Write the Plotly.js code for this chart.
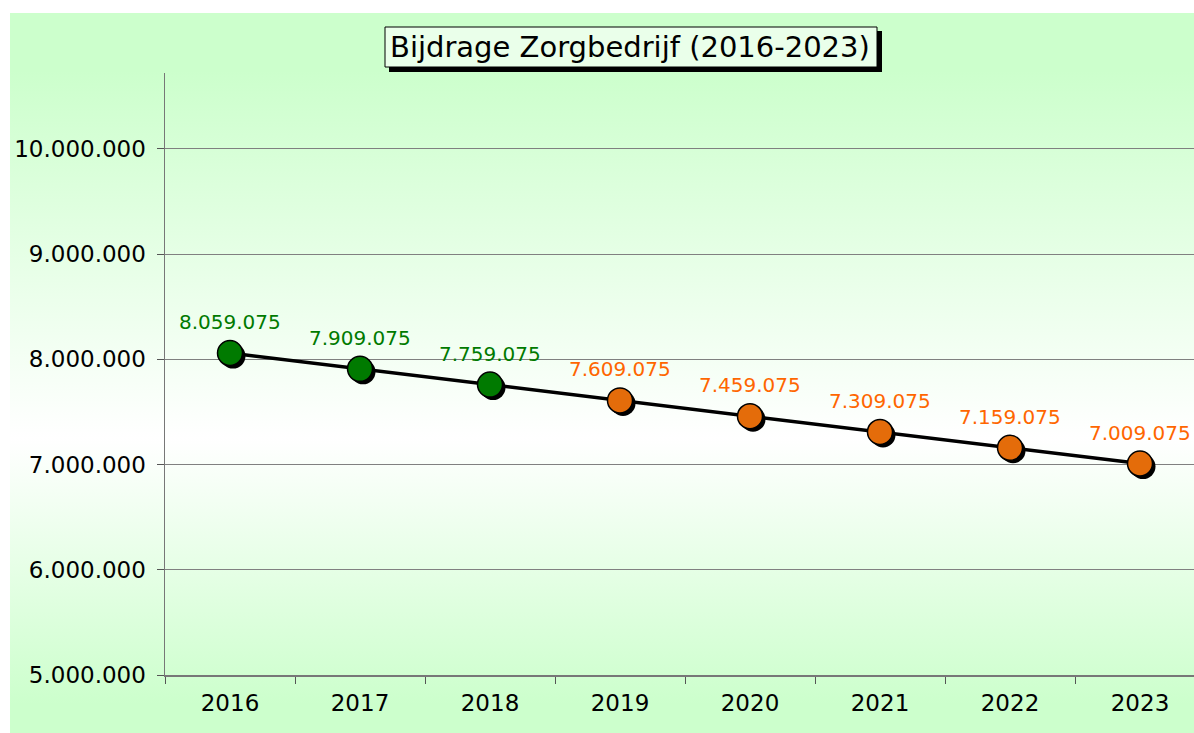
<!DOCTYPE html>
<html>
<head>
<meta charset="utf-8">
<script src="https://cdn.plot.ly/plotly-3.0.1.min.js"></script>
<style>
  html, body { margin: 0; padding: 0; background: #ffffff; overflow: hidden; width: 1194px; height: 733px; }
  #bg { position: absolute; left: 10px; top: 13px; width: 1184px; height: 720px;
        background: linear-gradient(to bottom, #ccffcc 0%, #ccffcc 8%, #ffffff 59%, #ccffcc 96%, #ccffcc 100%); }
  #chart { position: absolute; left: 0; top: 0; width: 1210px; height: 733px; }
</style>
</head>
<body>
<div id="bg"></div>
<div id="chart"></div>
<script>
// ---- data ----
const years = ['2016', '2017', '2018', '2019', '2020', '2021', '2022', '2023'];
const bijdrage = [8059075, 7909075, 7759075, 7609075, 7459075, 7309075, 7159075, 7009075];
const soort = ['realisatie', 'realisatie', 'realisatie', 'raming', 'raming', 'raming', 'raming', 'raming'];
const yTickValues = [5000000, 6000000, 7000000, 8000000, 9000000, 10000000];
const titleText = 'Bijdrage Zorgbedrijf (2016-2023)';

// ---- styling ----
const markerColor = { realisatie: '#007a00', raming: '#e46c0a' };
const labelColor = { realisatie: '#007a00', raming: '#ff6600' };
const FONT = 'DejaVu Sans, Verdana, sans-serif';

function fmt(v) {
  return String(v).replace(/\B(?=(\d{3})+(?!\d))/g, '.');
}

const marginL = 165, marginT = 73, marginB = 58, W = 1210, H = 733;
const yMin = 5000000, yMax = 10720000;
const plotH = H - marginT - marginB;
const plotW = 1040;
const shadowPx = 3;
const dy = shadowPx * (yMax - yMin) / plotH;
const dx = shadowPx * years.length / plotW;
const px2x = p => (p - marginL) / plotW;
const px2y = p => 1 + (marginT - p) / plotH;

// line (bottom layer, base axes)
const lineTrace = {
  x: years, y: bijdrage, type: 'scatter', mode: 'lines',
  line: { color: '#000000', width: 3.5 },
  hoverinfo: 'skip', showlegend: false
};

// marker shadows (offset axes)
const shadow = {
  x: years, y: bijdrage, type: 'scatter', mode: 'markers',
  xaxis: 'x2', yaxis: 'y2',
  marker: { size: 25, color: '#000000', line: { width: 0 } },
  hoverinfo: 'skip', showlegend: false
};

// markers (top layer)
const markers = {
  x: years, y: bijdrage, type: 'scatter', mode: 'markers',
  xaxis: 'x3', yaxis: 'y3',
  marker: { size: 25, color: soort.map(s => markerColor[s]), line: { color: '#000000', width: 1.5 } },
  showlegend: false
};

const annotations = years.map((yr, i) => ({
  x: i, y: bijdrage[i], xref: 'x', yref: 'y',
  text: fmt(bijdrage[i]), showarrow: false, yshift: 31,
  font: { family: FONT, size: 20, color: labelColor[soort[i]] }
}));

annotations.push({
  xref: 'paper', yref: 'paper', x: px2x(630), y: px2y(47), xanchor: 'center', yanchor: 'middle',
  text: titleText, showarrow: false,
  font: { family: FONT, size: 29, color: '#000000' }
});

const shapes = [
  { type: 'rect', xref: 'paper', yref: 'paper', x0: px2x(389), x1: px2x(882), y0: px2y(72), y1: px2y(31),
    fillcolor: '#000000', line: { width: 0 } },
  { type: 'rect', xref: 'paper', yref: 'paper', x0: px2x(385), x1: px2x(877), y0: px2y(67), y1: px2y(27),
    fillcolor: '#eaffea', line: { color: '#000000', width: 1 } }
];

const layout = {
  width: W, height: H,
  margin: { l: marginL, r: W - marginL - plotW, t: marginT, b: marginB },
  paper_bgcolor: 'rgba(0,0,0,0)', plot_bgcolor: 'rgba(0,0,0,0)',
  font: { family: FONT, color: '#000000' },
  xaxis: {
    type: 'category', range: [-0.5, 7.5],
    showgrid: false, zeroline: false,
    showline: true, linecolor: '#777777', linewidth: 1.5,
    ticks: 'outside', tickson: 'boundaries', ticklen: 7, tickcolor: '#555555', tickwidth: 1,
    tickfont: { family: FONT, size: 23, color: '#000000' },
    ticklabelstandoff: 7
  },
  yaxis: {
    range: [yMin, yMax], tickvals: yTickValues, ticktext: yTickValues.map(fmt),
    showgrid: true, gridcolor: '#808080', gridwidth: 1, zeroline: false,
    showline: true, linecolor: '#777777', linewidth: 1.5,
    ticks: 'outside', ticklen: 7, tickcolor: '#555555', tickwidth: 1,
    tickfont: { family: FONT, size: 23, color: '#000000' },
    ticklabelstandoff: 6
  },
  xaxis2: { type: 'category', overlaying: 'x', range: [-0.5 - dx, 7.5 - dx], visible: false },
  yaxis2: { overlaying: 'y', range: [yMin + dy, yMax + dy], visible: false },
  xaxis3: { type: 'category', overlaying: 'x', range: [-0.5, 7.5], visible: false },
  yaxis3: { overlaying: 'y', range: [yMin, yMax], visible: false },
  shapes: shapes,
  annotations: annotations
};

Plotly.newPlot('chart', [lineTrace, shadow, markers], layout, { displayModeBar: false, staticPlot: true });
</script>
</body>
</html>
